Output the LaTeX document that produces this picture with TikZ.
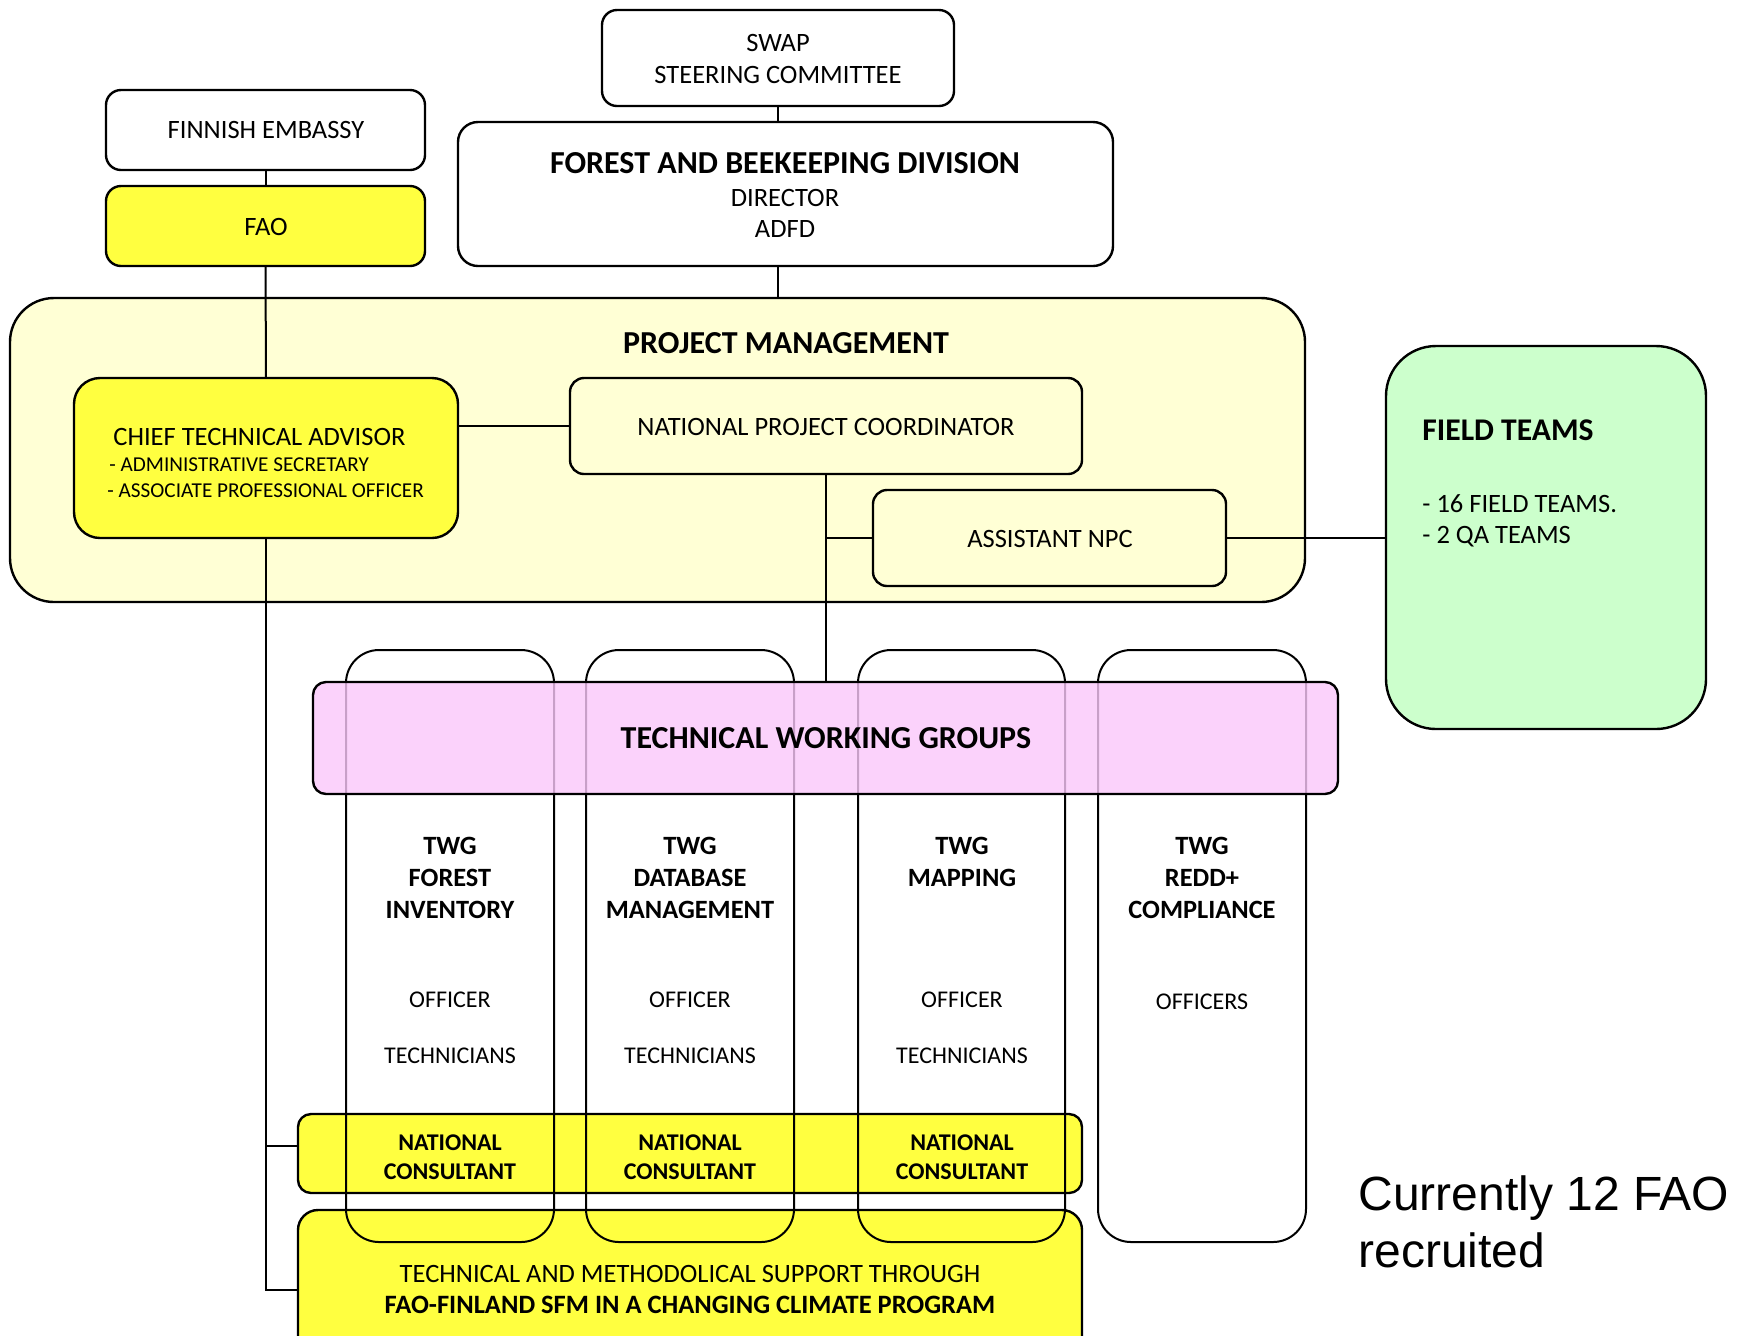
\documentclass[tikz,border=0pt]{standalone}
\usepackage{fontspec}
\setmainfont{Carlito}
\newfontfamily\arialfont{Liberation Sans}
\usetikzlibrary{fit}
\definecolor{pmbg}{RGB}{255,255,213}
\definecolor{yel}{RGB}{255,255,64}
\definecolor{grn}{RGB}{204,255,204}
\definecolor{pnk}{RGB}{251,199,251}
\begin{document}
\begin{tikzpicture}[x=0.5pt,y=-0.5pt,
  box/.style={draw=black, line width=1.2pt, inner sep=0pt, outer sep=0pt},
  link/.style={draw=black, line width=1pt},
  t/.style={anchor=base, inner sep=0pt, font=\fontsize{13.25}{16}\selectfont},
  tl/.style={t, anchor=base west},
  th/.style={anchor=base, inner sep=0pt, font=\fontsize{16}{19}\selectfont\bfseries},
  tc/.style={anchor=base, inner sep=0pt, font=\fontsize{13.2}{16}\selectfont\bfseries},
  to/.style={anchor=base, inner sep=0pt, font=\fontsize{12}{14}\selectfont},
  tn/.style={anchor=base, inner sep=0pt, font=\fontsize{12}{14}\selectfont\bfseries},
  ts/.style={anchor=base west, inner sep=0pt, font=\fontsize{10.6}{12}\selectfont},
  ta/.style={anchor=base west, inner sep=0pt, font=\fontsize{24}{28}\selectfont\arialfont}]
\path[use as bounding box] (0,0) rectangle (1744,1335);
\clip (0,0) rectangle (1744,1335);
\fill[white] (0,0) rectangle (1744,1335);

% project management background
\node[box, fill=pmbg, rounded corners=22pt, fit={(10,298) (1305,602)}] (pm) {};

% top boxes
\node[box, fill=white, rounded corners=7.5pt, fit={(602,10) (954,106)}] (swap) {};
\node[box, fill=white, rounded corners=7.5pt, fit={(106,90) (425,170)}] (fin) {};
\node[box, fill=yel, rounded corners=7.5pt, fit={(106,186) (425,266)}] (fao) {};
\node[box, fill=white, rounded corners=10pt, fit={(458,122) (1113,266)}] (forest) {};
\node[box, fill=grn, rounded corners=25pt, fit={(1386,346) (1706,729)}] (field) {};

% inside project management
\node[box, fill=yel, rounded corners=13pt, fit={(74,378) (458,538)}] (cta) {};
\node[box, fill=pmbg, rounded corners=7pt, fit={(570,378) (1082,474)}] (npc) {};
\node[box, fill=pmbg, rounded corners=7pt, fit={(873,490) (1226,586)}] (asst) {};

% lower yellow boxes
\node[box, fill=yel, rounded corners=6.5pt, fit={(298,1114) (1082,1193)}] (nc) {};
\node[box, fill=yel, rounded corners=10pt, fit={(298,1210) (1082,1420)}] (tsup) {};

% connectors
\draw[link] (swap.south) -- (swap.south |- forest.north);
\draw[link] (swap.south |- forest.south) -- (swap.south |- pm.north);
\draw[link] (fin.south) -- (fao.north);
\draw[link] (fao.south) -- (cta.north);
\draw[link] (cta.east |- npc.west) -- (npc.west);
\draw[link] (npc.south |- asst.west) -- (asst.west);
\draw[link] (asst.east) -- (asst.east -| field.west);
\coordinate (j1) at (266,1146);
\coordinate (j2) at (266,1290);
\draw[link] (cta.south) -- (j2) -- (j2 -| tsup.west);
\draw[link] (j1) -- (j1 -| nc.west);

% TWG columns
\node[box, line width=1pt, rounded corners=16.5pt, fit={(346,650) (554,1242)}] (col1) {};
\node[box, line width=1pt, rounded corners=16.5pt, fit={(586,650) (794,1242)}] (col2) {};
\node[box, line width=1pt, rounded corners=16.5pt, fit={(858,650) (1065,1242)}] (col3) {};
\node[box, line width=1pt, rounded corners=16.5pt, fit={(1098,650) (1306,1242)}] (col4) {};

% TWG band
\node[box, fill=pnk, fill opacity=0.8, rounded corners=6.5pt, fit={(313,682) (1338,794)}] (twg) {};
\draw[link] (npc.south) -- (npc.south |- twg.north);

% texts
\node[t] (swapa) at (778,51) {SWAP};
\node[t] (swapb) at (778,83) {STEERING COMMITTEE};
\node[t] (fint) at (266,138) {FINNISH EMBASSY};
\node[t] (faot) at (266,235) {FAO};
\node[th] (fora) at (785,173) {FOREST AND BEEKEEPING DIVISION};
\node[t] (forb) at (785,206) {DIRECTOR};
\node[t] (forc) at (785,237) {ADFD};
\node[th] (pmt) at (786,353) {PROJECT MANAGEMENT};
\node[tl] (ctaa) at (113,445) {CHIEF TECHNICAL ADVISOR};
\node[ts] (ctab) at (109,471) {- ADMINISTRATIVE SECRETARY};
\node[ts] (ctac) at (107,497) {- ASSOCIATE PROFESSIONAL OFFICER};
\node[t] (npct) at (826,435) {NATIONAL PROJECT COORDINATOR};
\node[t] (asstt) at (1050,547) {ASSISTANT NPC};
\node[anchor=base west, inner sep=0pt, font=\fontsize{15.8}{19}\selectfont\bfseries] (fta) at (1422,440) {FIELD TEAMS};
\node[tl] (ftb) at (1422,512) {- 16 FIELD TEAMS.};
\node[tl] (ftc) at (1422,543) {- 2 QA TEAMS};
\node[th] (twgt) at (826,748) {TECHNICAL WORKING GROUPS};

\node[tc] (c1a) at (450,854) {TWG};
\node[tc] (c1b) at (450,886) {FOREST};
\node[tc] (c1c) at (450,918) {INVENTORY};
\node[to] (c1d) at (450,1007) {OFFICER};
\node[to] (c1e) at (450,1063) {TECHNICIANS};
\node[tc] (c2a) at (690,854) {TWG};
\node[tc] (c2b) at (690,886) {DATABASE};
\node[tc] (c2c) at (690,918) {MANAGEMENT};
\node[to] (c2d) at (690,1007) {OFFICER};
\node[to] (c2e) at (690,1063) {TECHNICIANS};
\node[tc] (c3a) at (962,854) {TWG};
\node[tc] (c3b) at (962,886) {MAPPING};
\node[to] (c3d) at (962,1007) {OFFICER};
\node[to] (c3e) at (962,1063) {TECHNICIANS};
\node[tc] (c4a) at (1202,854) {TWG};
\node[tc] (c4b) at (1202,886) {REDD+};
\node[tc] (c4c) at (1202,918) {COMPLIANCE};
\node[to] (c4d) at (1202,1009) {OFFICERS};

\node[tn] (n1a) at (450,1150) {NATIONAL};
\node[tn] (n1b) at (450,1179) {CONSULTANT};
\node[tn] (n2a) at (690,1150) {NATIONAL};
\node[tn] (n2b) at (690,1179) {CONSULTANT};
\node[tn] (n3a) at (962,1150) {NATIONAL};
\node[tn] (n3b) at (962,1179) {CONSULTANT};

\node[t] (tsa) at (690,1282) {TECHNICAL AND METHODOLICAL SUPPORT THROUGH};
\node[t, font=\fontsize{13.25}{16}\selectfont\bfseries] (tsb) at (690,1313) {FAO-FINLAND SFM IN A CHANGING CLIMATE PROGRAM};

\node[ta] (cura) at (1358,1210) {Currently 12 FAO};
\node[ta] (curb) at (1358,1267) {recruited};
\end{tikzpicture}
\end{document}
